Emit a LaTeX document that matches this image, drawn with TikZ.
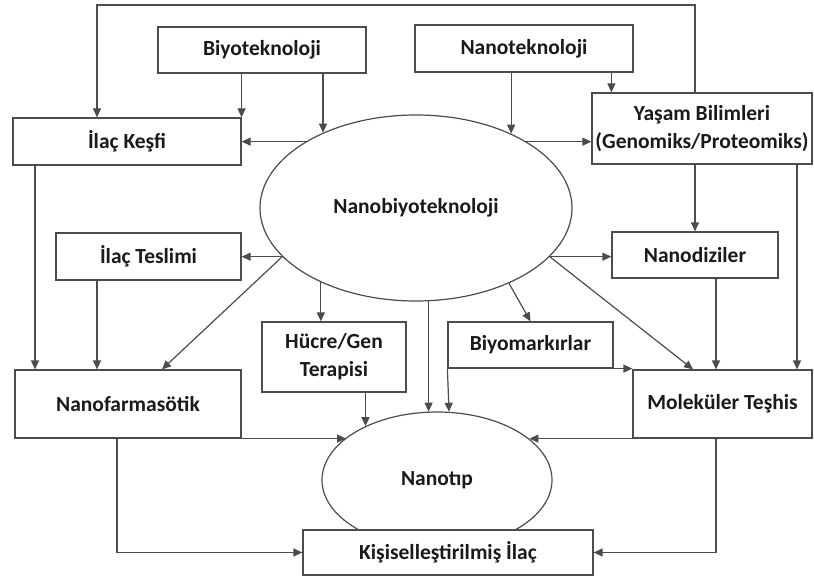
\documentclass[tikz,border=0pt]{standalone}
\usepackage{fontspec}
\setmainfont{Carlito}
\usetikzlibrary{shapes.geometric,arrows.meta,calc}
\definecolor{edge}{HTML}{4C4C4C}
\definecolor{txt}{HTML}{1A1A1A}
\begin{document}
\begin{tikzpicture}[x=1pt,y=-1pt,
  line width=1.2pt,
  every node/.style={font=\bfseries\fontsize{21.5}{28}\selectfont, text=txt},
  box/.style={draw=edge, fill=white, inner sep=0pt, align=center},
  oval/.style={ellipse, draw=edge, fill=white, inner sep=0pt},
  arr/.style={draw=edge, -{Triangle[length=9pt,width=8pt]}}
]
\useasboundingbox (0,0) rectangle (814,583);

% boxes
\node[box, minimum width=208pt, minimum height=46pt] (bio) at (262,50) {Biyoteknoloji};
\node[box, minimum width=218pt, minimum height=47pt] (ntk) at (524,48.5) {Nanoteknoloji};
\node[box, minimum width=220pt, minimum height=71pt] (ys) at (702,128.5) {Yaşam Bilimleri\\(Genomiks/Proteomiks)};
\node[box, minimum width=228pt, minimum height=47pt] (ik) at (127,141.5) {İlaç Keşfi};
\node[oval, minimum width=312pt, minimum height=186pt] (nb) at (416,208) {Nanobiyoteknoloji};
\node[box, minimum width=185pt, minimum height=47pt] (it) at (148.5,256.5) {İlaç Teslimi};
\node[box, minimum width=166pt, minimum height=46pt] (nd) at (695,255) {Nanodiziler};
\node[box, minimum width=144pt, minimum height=70pt] (hg) at (334,357) {Hücre/Gen\\Terapisi};
\node[box, minimum width=165pt, minimum height=46pt] (bm) at (530.5,345) {Biyomarkırlar};
\node[box, minimum width=226pt, minimum height=68pt] (nf) at (128,404) {Nanofarmasötik};
\node[box, minimum width=179pt, minimum height=68pt] (mt) at (722.5,404) {Moleküler Teşhis};
\node[oval, minimum width=230pt, minimum height=136pt] (nt) at (437,480) {Nanotıp};
\node[box, minimum width=290pt, minimum height=45pt] (kis) at (448,552.5) {Kişiselleştirilmiş İlaç};

% helper coordinates
\coordinate (tr) at (695,5);
\coordinate (tl) at (97,5);
\coordinate (ysin) at ($(ys.north west)+(20,0)$);
\coordinate (ysr) at (797,0);
\coordinate (c35) at (35,0);
\coordinate (c117) at (117,0);
\coordinate (c716) at (716,0);

% top level
\draw[arr] (bio.south -| ik.north east) -- (ik.north east);
\draw[arr] (bio.south -| nb.141.8) -- (nb.141.8);
\draw[arr] (ntk.south -| nb.38.8) -- (nb.38.8);
\draw[arr] (ntk.south -| ysin) -- (ysin);
\draw[arr] (nb.149) -- (nb.149 -| ik.east);
\draw[arr] (nb.31.8) -- (nb.31.8 -| ys.west);
\draw[arr] (ys.north -| tr) -- (tr) -- (tl) -- (tl |- ik.north);

% middle level
\draw[arr] (nb.200.3) -- (nb.200.3 -| it.east);
\draw[arr] (nb.340.8) -- (nb.340.8 -| nd.west);
\draw[arr] (ys.south -| nd.north) -- (nd.north);
\draw[arr] (ys.south -| ysr) -- (mt.north -| ysr);
\draw[arr] (ik.south -| c35) -- (nf.north -| c35);
\draw[arr] (it.south -| tl) -- (nf.north -| tl);
\draw[arr] (nb.200.3) -- ($(nf.north)+(34,0)$);
\draw[arr] (nb.218.8) -- (nb.218.8 |- hg.north);
\draw[arr] (nb.321.8) -- (bm.north);
\draw[arr] (nb.340.8) -- ($(mt.north)+(-29.5,0)$);
\draw[arr] (nd.south -| c716) -- (mt.north -| c716);

% into Nanotıp
\draw[arr] (hg.south -| nt.143) -- (nt.143);
\draw[arr] (nt.97.6 |- nb.276.8) -- (nt.97.6);
\draw[arr] (bm.south west) -- (nt.80.7);
\draw[arr] (bm.south east) -- (bm.south east -| mt.west);
\draw[arr] (nf.south east) -- (nf.south east -| nt.155.1);
\draw[arr] (mt.south west) -- (mt.south west -| nt.24.1);

% into Kişiselleştirilmiş İlaç
\draw[arr] (nf.south -| c117) |- (kis.west);
\draw[arr] (mt.south -| c716) |- (kis.east);
\end{tikzpicture}
\end{document}
